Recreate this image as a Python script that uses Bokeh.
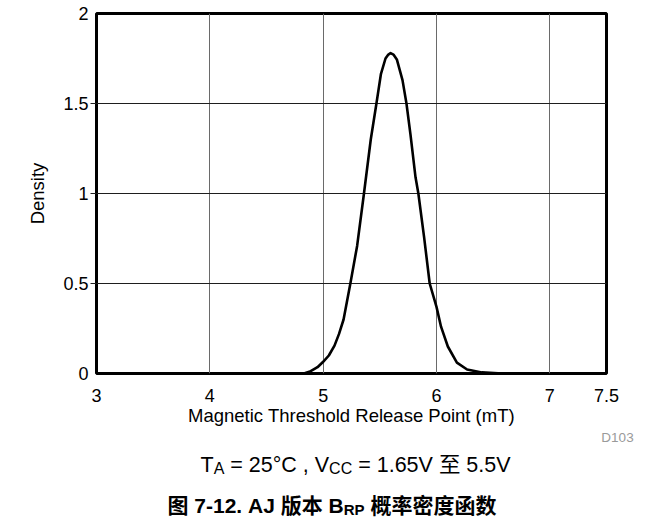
from bokeh.plotting import figure
from bokeh.layouts import column
from bokeh.models import Range1d, FixedTicker, LinearAxis, Label, CustomJSTickFormatter
from bokeh.embed import file_html
from bokeh.resources import INLINE

# ---- data ----
density_x = [4.83, 4.89, 4.95, 5.0, 5.05, 5.10, 5.14, 5.18, 5.24, 5.30, 5.36, 5.42,
             5.47, 5.51, 5.55, 5.575, 5.595, 5.62, 5.65, 5.70, 5.735, 5.77, 5.815,
             5.84, 5.89, 5.94, 6.0, 6.04, 6.10, 6.18, 6.27, 6.40, 6.58]
density_y = [0.0, 0.013, 0.035, 0.065, 0.10, 0.155, 0.22, 0.30, 0.50, 0.71, 1.0, 1.30,
             1.50, 1.665, 1.75, 1.772, 1.78, 1.772, 1.745, 1.63, 1.50, 1.33, 1.09,
             1.0, 0.76, 0.50, 0.37, 0.26, 0.15, 0.06, 0.022, 0.006, 0.0]
x_ticks = [3, 4, 5, 6, 7, 7.5]
y_ticks = [0, 0.5, 1, 1.5, 2]
x_grid = [4, 5, 6, 7]
y_grid = [0.5, 1, 1.5]
x_label = "Magnetic Threshold Release Point (mT)"
y_label = "Density"
figure_id = "D103"
cond_runs = [("T", "main"), ("A", "sub"), (" = 25°C , V", "main"), ("CC", "sub"),
             (" = 1.65V 至 5.5V", "main")]
title_runs = [("图 7-12. AJ 版本 B", "main"), ("RP", "sub"), (" 概率密度函数", "main")]

# ---- layout ----
W, H = 663, 518
ML, MR, MT = 96, 57, 13
HM = 428                 # height of the chart figure
MB = HM - 374            # frame bottom at y = 374
HC = H - HM              # caption strip below
X0, X1, Y0, Y1 = 3, 7.5, 0, 2
FONT = "Liberation Sans"
CJK = "'Liberation Sans', 'Noto Sans CJK SC'"

ARIAL = {" ": 278, "=": 584, ".": 278, ",": 278, "-": 333, "°": 400, "(": 333, ")": 333,
         "A": 667, "B": 667, "C": 722, "D": 722, "J": 500, "P": 667, "R": 722, "T": 611,
         "V": 667}
ARIAL_B = {" ": 278, ".": 278, "-": 333, "A": 722, "B": 722, "J": 556, "P": 667, "R": 722}


def text_w(s, size, bold=False):
    tab = ARIAL_B if bold else ARIAL
    tot = 0
    for ch in s:
        if ch.isdigit():
            tot += 556
        elif ch in tab:
            tot += tab[ch]
        elif ord(ch) > 0x2000:
            tot += 1000
        else:
            tot += 556
    return tot * size / 1000.0


p = figure(width=W, height=HM, x_range=Range1d(X0, X1), y_range=Range1d(Y0, Y1),
           output_backend="svg", toolbar_location=None,
           min_border_left=ML, min_border_right=MR, min_border_top=MT, min_border_bottom=MB)
p.background_fill_color = "white"
p.border_fill_color = "white"
p.outline_line_color = "black"
p.outline_line_width = 3

p.xgrid.ticker = FixedTicker(ticks=x_grid)
p.ygrid.ticker = FixedTicker(ticks=y_grid)
p.xgrid.grid_line_color = "#6a6a6a"
p.ygrid.grid_line_color = "#1e1e1e"
p.xgrid.grid_line_width = 1
p.ygrid.grid_line_width = 1

fmt = CustomJSTickFormatter(code="return String(tick)")

xa = p.xaxis[0]
xa.ticker = FixedTicker(ticks=x_ticks)
xa.formatter = fmt
xa.major_tick_out = 0
xa.major_tick_in = 0
xa.minor_tick_out = 0
xa.minor_tick_in = 0
xa.axis_line_color = None
xa.major_label_standoff = 15
xa.major_label_text_font = FONT
xa.major_label_text_font_size = "18px"
xa.major_label_text_color = "black"
xa.axis_label = x_label
xa.axis_label_text_font = FONT
xa.axis_label_text_font_size = "18.5px"
xa.axis_label_text_font_style = "normal"
xa.axis_label_text_color = "black"
xa.axis_label_standoff = 0

ya = p.yaxis[0]
ya.ticker = FixedTicker(ticks=y_ticks)
ya.formatter = fmt
ya.major_tick_out = 0
ya.major_tick_in = 0
ya.minor_tick_out = 0
ya.minor_tick_in = 0
ya.axis_line_color = None
ya.major_label_standoff = 2
ya.major_label_text_font = FONT
ya.major_label_text_font_size = "18px"
ya.major_label_text_color = "black"
ya.axis_label = y_label
ya.axis_label_text_font = FONT
ya.axis_label_text_font_size = "18.5px"
ya.axis_label_text_font_style = "normal"
ya.axis_label_text_color = "black"
ya.axis_label_standoff = 12

# short tick stubs at the interior y grid lines
stub = LinearAxis(ticker=FixedTicker(ticks=y_grid),
                  formatter=CustomJSTickFormatter(code="return ''"))
stub.major_tick_out = 6
stub.major_tick_in = 0
stub.minor_tick_out = 0
stub.minor_tick_in = 0
stub.major_tick_line_color = "#1e1e1e"
stub.major_tick_line_width = 1
stub.axis_line_color = None
stub.major_label_standoff = 0
p.left = [stub, ya]

p.line(density_x, density_y, line_color="black", line_width=2.6, line_join="round")

# ---- caption strip (pixel coordinates, y downward from its top) ----
cf = figure(width=W, height=HC, y_range=Range1d(HC, 0),
            output_backend="svg", toolbar_location=None, min_border=0,
            x_axis_location=None, y_axis_location=None)
if "frame_align" in cf.properties():
    cf.frame_align = False
    cf.x_range = Range1d(0, W)
else:
    cf.min_border_left = ML
    cf.min_border_right = MR
    cf.x_range = Range1d(ML, W - MR)
cf.outline_line_color = None
cf.background_fill_color = "white"
cf.border_fill_color = "white"
cf.xgrid.visible = False
cf.ygrid.visible = False


def add_runs(runs, x_px, base_px, main_size, sub_size, sub_shift, bold):
    x = x_px
    for txt, kind in runs:
        size = main_size if kind == "main" else sub_size
        shift = 0 if kind == "main" else sub_shift
        stripped = txt.lstrip(" ")
        x += text_w(txt[:len(txt) - len(stripped)], size, bold)
        cf.add_layout(Label(x=x, y=base_px + shift - HM, text=stripped,
                            text_align="left", text_baseline="alphabetic",
                            text_font=CJK, text_font_size=f"{size}px",
                            text_font_style="bold" if bold else "normal",
                            text_color="black"))
        x += text_w(stripped, size, bold)


add_runs(cond_runs, 200, 464, 21.5, 16, 4, False)
add_runs(title_runs, 167, 505, 21, 15, 3.5, True)

cf.add_layout(Label(x=617, y=437 - HM, text=figure_id, text_align="center",
                    text_baseline="middle", text_font=FONT, text_font_size="13.5px",
                    text_color="#9a9a9a"))

layout = column(p, cf, spacing=0)
open("out.html", "w").write(file_html(layout, INLINE))
